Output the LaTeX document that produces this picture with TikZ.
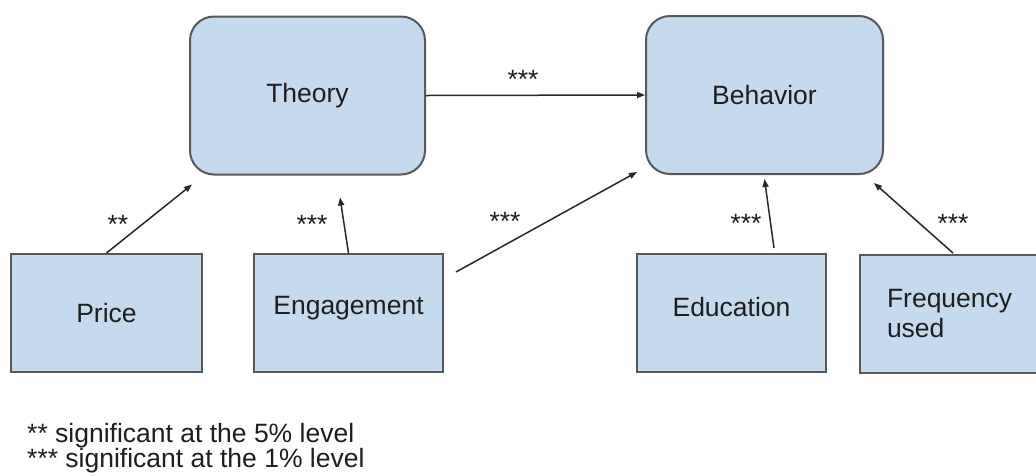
\documentclass[tikz,border=0pt]{standalone}
\usepackage{fontspec}
\setmainfont{Liberation Sans}
\usetikzlibrary{arrows.meta,calc}
\definecolor{boxfill}{RGB}{198,218,239}
\definecolor{boxline}{RGB}{88,88,88}
\definecolor{txt}{RGB}{30,30,30}
\definecolor{arrowc}{RGB}{40,40,40}
\begin{document}
\begin{tikzpicture}[x=1pt,y=-1pt,
  font=\fontsize{26.5}{30}\selectfont, text=txt,
  rbox/.style={draw=boxline, line width=2pt, fill=boxfill, rounded corners=24pt,
    minimum height=158pt, inner sep=0pt},
  sbox/.style={draw=boxline, line width=2pt, fill=boxfill,
    minimum height=118pt, inner sep=0pt},
  arr/.style={draw=arrowc, line width=1.5pt, -{Triangle[length=8pt,width=6pt]}},
  star/.style={inner sep=0pt},
  legend/.style={inner sep=0pt, anchor=base west}]
\useasboundingbox (0,0) rectangle (1036,475);
\fill[white] (0,0) rectangle (1036,475);

\node[rbox, minimum width=235pt] (theory) at (307.5,95.5) {Theory};
\node[rbox, minimum width=237pt] (behavior) at (764.5,95) {Behavior};
\node[sbox, minimum width=191pt] (price) at (106.5,313) {Price};
\node[sbox, minimum width=189pt, text depth=15pt] (engagement) at (348.5,313) {Engagement};
\node[sbox, minimum width=189pt, text depth=12pt] (education) at (731.5,313) {Education};
\node[sbox, anchor=north west, inner xsep=27pt, text width=127pt, align=left,
  minimum height=118pt] (frequency) at (859,254) {Frequency\\used};

\draw[arr] (theory.east) -- (behavior.west);
\draw[arr] (price.north) -- ($(theory.south west)+(3,9)$);
\draw[arr] (engagement.north) -- ($(theory.south)+(32.5,22)$);
\draw[arr] ($(engagement.north east)+(12,19)$) -- ($(behavior.south west)+(-8,-3)$);
\draw[arr] ($(education.north)+(42.5,-5)$) -- ($(behavior.south)+(0,4)$);
\draw[arr] ($(frequency.north west)+(94,-1)$) -- ($(behavior.south east)+(-10,8)$);

\node[star] (s1) at (523,79) {***};
\node[star] (s2) at (118,224) {**};
\node[star] (s3) at (312,224) {***};
\node[star] (s4) at (505,221) {***};
\node[star] (s5) at (746,223) {***};
\node[star] (s6) at (953,223) {***};

\node[legend] (l1) at (27,442) {** significant at the 5\% level};
\node[legend] (l2) at (27,467) {*** significant at the 1\% level};
\end{tikzpicture}
\end{document}
